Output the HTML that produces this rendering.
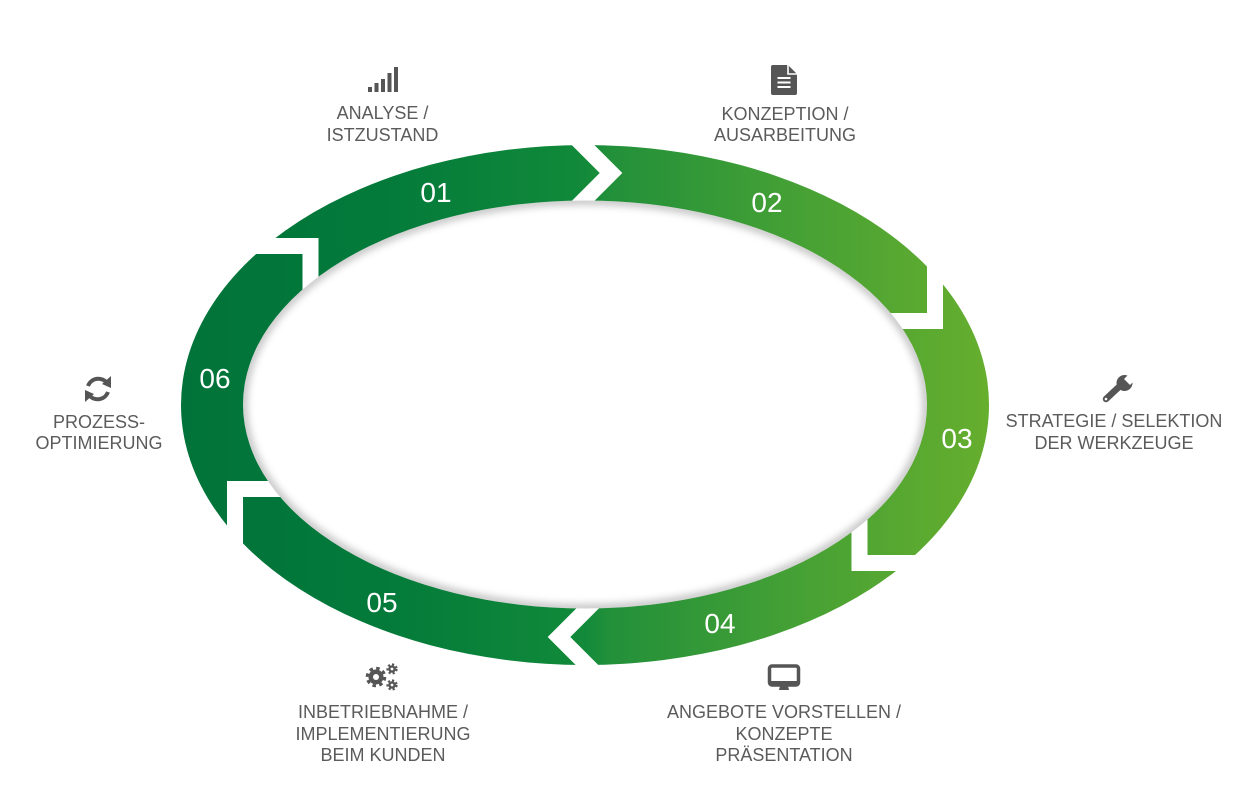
<!DOCTYPE html>
<html>
<head>
<meta charset="utf-8">
<style>
  html,body{margin:0;padding:0;background:#fff;}
  svg{display:block;}
  .lbl{font-family:"Liberation Sans",sans-serif;font-size:18px;fill:#5b5b5b;text-anchor:middle;}
  .num{font-family:"Liberation Sans",sans-serif;font-size:28px;fill:#fff;text-anchor:middle;}
</style>
</head>
<body>
<svg width="1238" height="808" viewBox="0 0 1238 808" xmlns="http://www.w3.org/2000/svg">
  <defs>
    <linearGradient id="g" gradientUnits="userSpaceOnUse" x1="180" y1="0" x2="990" y2="0">
      <stop offset="0" stop-color="#01733a"/>
      <stop offset="0.25" stop-color="#037a3a"/>
      <stop offset="0.5" stop-color="#128a3a"/>
      <stop offset="0.53" stop-color="#22903a"/>
      <stop offset="0.75" stop-color="#44a035"/>
      <stop offset="1" stop-color="#66ae2e"/>
    </linearGradient>
    <clipPath id="inner">
      <ellipse cx="585" cy="404.5" rx="342" ry="204"/>
    </clipPath>
    <filter id="blur" x="-10%" y="-10%" width="120%" height="120%">
      <feGaussianBlur stdDeviation="4"/>
    </filter>
  </defs>

  <!-- ring -->
  <ellipse cx="585" cy="405" rx="404" ry="260" fill="url(#g)"/>

  <!-- gaps -->
  <g fill="none" stroke="#fff" stroke-width="16" stroke-linejoin="miter" stroke-miterlimit="4">
    <polyline points="561,123 611,173 561,223"/>
    <polyline points="935,240 935,321 880,321"/>
    <polyline points="859.5,505 859.5,563 940,563"/>
    <polyline points="609,587 559,637 609,687"/>
    <polyline points="235,570 235,489 290,489"/>
    <polyline points="230,246 310.5,246 310.5,300"/>
  </g>

  <ellipse cx="585" cy="404.5" rx="342" ry="204" fill="#fff"/>
  <g clip-path="url(#inner)">
    <ellipse cx="585" cy="404.5" rx="342" ry="204" fill="none" stroke="rgba(0,0,0,0.25)" stroke-width="8" filter="url(#blur)"/>
  </g>

  <!-- numbers -->
  <text class="num" x="436" y="202">01</text>
  <text class="num" x="767" y="212">02</text>
  <text class="num" x="957" y="448">03</text>
  <text class="num" x="720" y="633">04</text>
  <text class="num" x="382" y="612">05</text>
  <text class="num" x="215" y="388">06</text>

  <!-- labels -->
  <text class="lbl" x="382.5" y="119">ANALYSE /</text>
  <text class="lbl" x="382.5" y="141">ISTZUSTAND</text>

  <text class="lbl" x="785" y="120">KONZEPTION /</text>
  <text class="lbl" x="785" y="141">AUSARBEITUNG</text>

  <text class="lbl" x="1114" y="427">STRATEGIE / SELEKTION</text>
  <text class="lbl" x="1114" y="449">DER WERKZEUGE</text>

  <text class="lbl" x="99" y="428">PROZESS-</text>
  <text class="lbl" x="99" y="449">OPTIMIERUNG</text>

  <text class="lbl" x="383" y="718">INBETRIEBNAHME /</text>
  <text class="lbl" x="383" y="740">IMPLEMENTIERUNG</text>
  <text class="lbl" x="383" y="761">BEIM KUNDEN</text>

  <text class="lbl" x="784" y="718">ANGEBOTE VORSTELLEN /</text>
  <text class="lbl" x="784" y="740">KONZEPTE</text>
  <text class="lbl" x="784" y="761">PRÄSENTATION</text>

  <!-- icons -->
  <!-- signal bars -->
  <g fill="#555">
    <rect x="368" y="87" width="4" height="5"/>
    <rect x="374.5" y="83" width="4" height="9"/>
    <rect x="381" y="79" width="4" height="13"/>
    <rect x="387.5" y="73" width="4" height="19"/>
    <rect x="394" y="67" width="4" height="25"/>
  </g>

  <!-- document -->
  <g>
    <path d="M773 65 H788 L797 74 V93 Q797 95 795 95 H773 Q771 95 771 93 V67 Q771 65 773 65 Z" fill="#555"/>
    <path d="M788 65 V74 H797" fill="none" stroke="#fff" stroke-width="1.6"/>
    <rect x="777.5" y="77" width="13" height="2" fill="#fff"/>
    <rect x="777.5" y="81.5" width="13" height="2" fill="#fff"/>
    <rect x="777.5" y="86" width="13" height="2" fill="#fff"/>
  </g>

  <!-- wrench -->
  <g fill="#555" stroke="none">
    <line x1="1106" y1="399" x2="1121" y2="385" stroke="#555" stroke-width="6.5" stroke-linecap="round"/>
    <circle cx="1124.5" cy="383" r="8"/>
    <path d="M1124 379 L1131 372 L1137 378 L1130 385 Z" fill="#fff"/>
    <circle cx="1106" cy="399" r="1.3" fill="#fff"/>
  </g>

  <!-- refresh -->
  <g fill="none" stroke="#555" stroke-width="4">
    <path d="M88 386 A11 11 0 0 1 107 383"/>
    <path d="M108 392 A11 11 0 0 1 89 395"/>
  </g>
  <g fill="#555">
    <path d="M102 384 L111 376 L111 388 Z"/>
    <path d="M94 394 L85 402 L85 390 Z"/>
  </g>

  <!-- gears -->
  <g>
    <circle cx="376" cy="677" r="7.5" fill="#555"/>
    <circle cx="376" cy="677" r="8.8" fill="none" stroke="#555" stroke-width="3" stroke-dasharray="3.5 3.4"/>
    <circle cx="376" cy="677" r="3" fill="#fff"/>
    <circle cx="392" cy="669" r="3.8" fill="#555"/>
    <circle cx="392" cy="669" r="4.6" fill="none" stroke="#555" stroke-width="2" stroke-dasharray="2.2 2.1"/>
    <circle cx="392" cy="669" r="1.4" fill="#fff"/>
    <circle cx="392" cy="685" r="3.8" fill="#555"/>
    <circle cx="392" cy="685" r="4.6" fill="none" stroke="#555" stroke-width="2" stroke-dasharray="2.2 2.1"/>
    <circle cx="392" cy="685" r="1.4" fill="#fff"/>
  </g>

  <!-- monitor -->
  <g>
    <rect x="769.5" y="666" width="29" height="19" rx="2.5" fill="none" stroke="#555" stroke-width="3.5"/>
    <rect x="769.5" y="681" width="29" height="5" fill="#555"/>
    <path d="M780 686 H788 L789 690 H779 Z" fill="#555"/>
  </g>
</svg>
</body>
</html>
